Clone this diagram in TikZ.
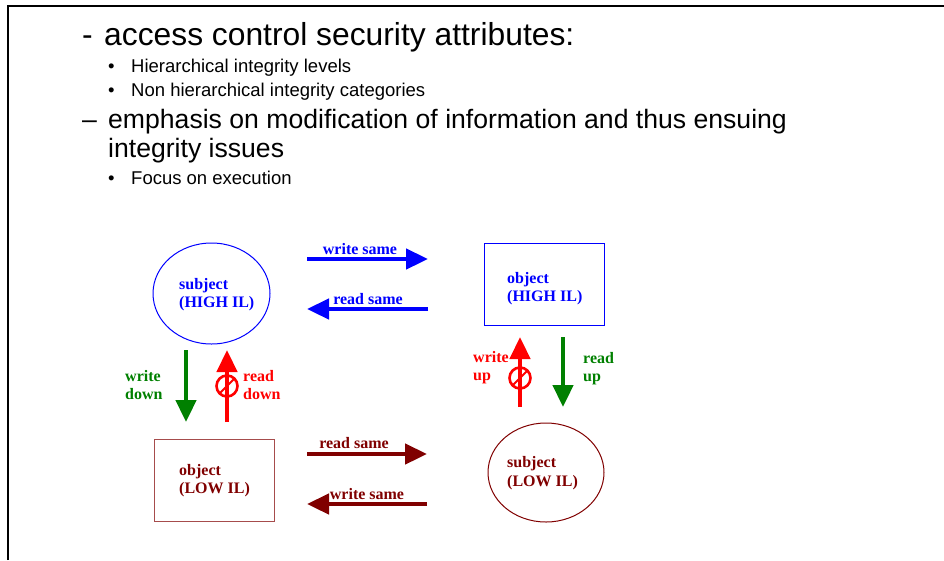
\documentclass[tikz,border=0pt]{standalone}
\usepackage{fontspec}
\setmainfont{Liberation Serif}
\newfontfamily\sansf{Liberation Sans}
\usetikzlibrary{arrows.meta,shapes.geometric,calc}
\definecolor{myblue}{RGB}{0,0,255}
\definecolor{mydred}{RGB}{128,0,0}
\definecolor{mygreen}{RGB}{0,128,0}
\definecolor{myred}{RGB}{255,0,0}
\begin{document}
\begin{tikzpicture}[x=1pt,y=-1pt,
  lbl/.style={font=\bfseries\fontsize{16}{18.5}\selectfont, align=left, inner sep=0pt, anchor=west},
  albl/.style={font=\bfseries\fontsize{16}{18.5}\selectfont, inner sep=0pt},
  fat/.style={line width=4.6pt, -{Triangle[length=22pt,width=20pt]}},
  title/.style={font=\sansf\fontsize{31.8}{36}\selectfont, inner sep=0pt, anchor=base west},
  title2/.style={font=\sansf\fontsize{26.6}{32}\selectfont, inner sep=0pt, anchor=base west},
  sub/.style={font=\sansf\fontsize{18.5}{22}\selectfont, inner sep=0pt, anchor=base west},
  shapeline/.style={line width=1pt},
  forbid/.style={myred, line width=2.6pt}]
\useasboundingbox (0,0) rectangle (944,560);
\draw[line width=1.5pt] (8,560) -- (8,6) -- (944,6);

% text
\node[title] (d1) at (82,45) {-};
\node[title] (t1) at (104,45) {access control security attributes:};
\node[sub] (b1) at (108,72) {•};
\node[sub] (s1) at (131,72) {Hierarchical integrity levels};
\node[sub] (b2) at (108,96) {•};
\node[sub] (s2) at (131,96) {Non hierarchical integrity categories};
\node[title2] (d2) at (82,128) {–};
\node[title2] (t2) at (108,128) {emphasis on modification of information and thus ensuing};
\node[title2] (t3) at (108,157) {integrity issues};
\node[sub] (b3) at (108,184) {•};
\node[sub] (s3) at (131,184) {Focus on execution};

% shapes
\node[draw=myblue, shapeline, ellipse, minimum width=117pt, minimum height=101pt] (sh) at (211.5,293.5) {};
\node[lbl, text=myblue] (shl) at (179,294.5) {subject\\(HIGH IL)};
\node[draw=myblue, shapeline, minimum width=120pt, minimum height=82pt] (oh) at (544,284) {};
\node[lbl, text=myblue] (ohl) at (507,288.5) {object\\(HIGH IL)};
\node[draw=mydred!70, shapeline, minimum width=120pt, minimum height=82pt] (ol) at (214,480) {};
\node[lbl, text=mydred] (oll) at (179,480.5) {object\\(LOW IL)};
\node[draw=mydred, shapeline, ellipse, minimum width=116pt, minimum height=99pt] (sl) at (546,472.5) {};
\node[lbl, text=mydred] (sll) at (507,473) {subject\\(LOW IL)};

% arrow end points
\coordinate (a1s) at (307,259); \coordinate (a1e) at (428,259);
\coordinate (a2s) at (428,309); \coordinate (a2e) at (307,309);
\coordinate (a3s) at (307,454); \coordinate (a3e) at (427,454);
\coordinate (a4s) at (427,504); \coordinate (a4e) at (307,504);
\coordinate (a5s) at (186,350); \coordinate (a5e) at (186,422);
\coordinate (a6s) at (227,422); \coordinate (a6e) at (227,350);
\coordinate (a7s) at (520,407); \coordinate (a7e) at (520,337);
\coordinate (a8s) at (563,337); \coordinate (a8e) at (563,407);
\coordinate (f1) at (227,386);
\coordinate (f2) at (520,378);

\draw[fat, myblue] (a1s) -- (a1e);
\draw[fat, myblue] (a2s) -- (a2e);
\draw[fat, mydred] (a3s) -- (a3e);
\draw[fat, mydred] (a4s) -- (a4e);
\draw[fat, mygreen] (a5s) -- (a5e);
\draw[fat, myred] (a6s) -- (a6e);
\draw[fat, myred] (a7s) -- (a7e);
\draw[fat, mygreen] (a8s) -- (a8e);

\draw[forbid] (f1) circle (10.5pt);
\draw[forbid, line width=2pt] ($(f1)+(-7.5,7.5)$) -- ($(f1)+(7.5,-7.5)$);
\draw[forbid] (f2) circle (10.5pt);
\draw[forbid, line width=2pt] ($(f2)+(-7.5,7.5)$) -- ($(f2)+(7.5,-7.5)$);

% arrow labels
\node[albl, text=myblue] (l1) at (360,249) {write same};
\node[albl, text=myblue] (l2) at (368,299) {read same};
\node[albl, text=mydred] (l3) at (354,443) {read same};
\node[albl, text=mydred] (l4) at (367,494) {write same};
\node[lbl, text=mygreen] (l5) at (125,385) {write\\down};
\node[lbl, text=myred] (l6) at (243,385) {read\\down};
\node[lbl, text=myred] (l7) at (473,367.5) {write\\up};
\node[lbl, text=mygreen] (l8) at (583,368.5) {read\\up};
\end{tikzpicture}
\end{document}
